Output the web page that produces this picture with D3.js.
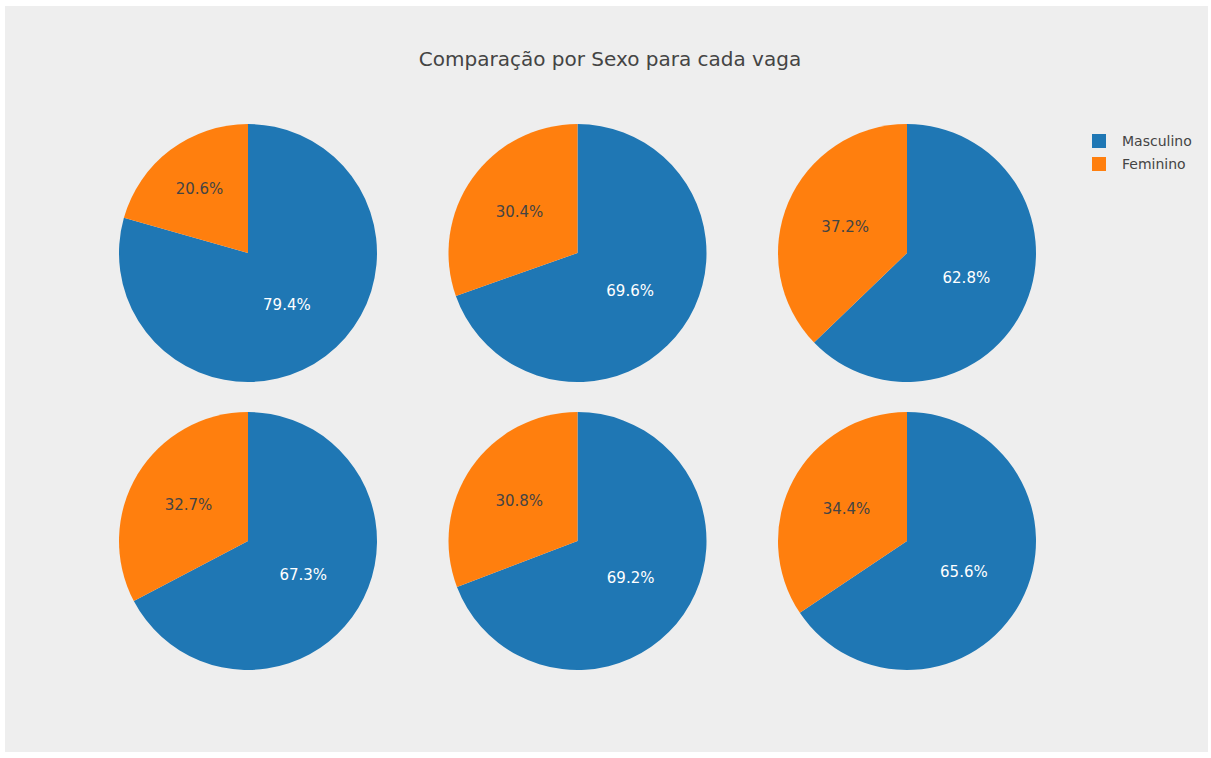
<!DOCTYPE html>
<html>
<head>
<meta charset="utf-8">
<script src="https://cdn.jsdelivr.net/npm/d3@7"></script>
<style>
body { margin: 0; background: #fff; }
text { font-family: "DejaVu Sans", Verdana, sans-serif; }
</style>
</head>
<body>
<svg id="chart"></svg>
<script>
const width = 1211, height = 758;

const categories = ['Masculino', 'Feminino'];
const colors = ['#1f77b4', '#ff7f0e'];
// percentages per vaga, [Masculino, Feminino]
const masculino = [79.4, 69.6, 62.8, 67.3, 69.2, 65.6];
const feminino = [20.6, 30.4, 37.2, 32.7, 30.8, 34.4];

const svg = d3.select('#chart')
    .attr('width', width)
    .attr('height', height);

svg.append('rect')
    .attr('x', 5).attr('y', 6)
    .attr('width', 1203).attr('height', 746)
    .attr('fill', '#eeeeee');

svg.append('text')
    .attr('x', 610).attr('y', 66)
    .attr('text-anchor', 'middle')
    .attr('font-size', 20)
    .attr('fill', '#444')
    .text('Comparação por Sexo para cada vaga');

const cols = d3.scalePoint().domain([0, 1, 2]).range([248, 907]);
const rows = d3.scalePoint().domain([0, 1]).range([253, 541]);
const R = 129;

const pie = d3.pie().sort(null).value(d => d.v);
const arc = d3.arc().innerRadius(0).outerRadius(R);

masculino.forEach((m, i) => {
    const data = [{ k: 0, v: m }, { k: 1, v: feminino[i] }];
    const total = m + feminino[i];
    const g = svg.append('g')
        .attr('transform', `translate(${cols(i % 3)},${rows(Math.floor(i / 3))})`);
    const arcs = pie(data);
    g.selectAll('path').data(arcs).join('path')
        .attr('d', arc)
        .attr('fill', d => colors[d.data.k]);

    // inside label placement like plotly (inscribed circle)
    g.selectAll('text').data(arcs).join('text')
        .attr('transform', d => {
            const frac = d.data.v / total;
            const half = Math.PI * Math.min(frac, 0.5);
            const rIns = Math.min(1 / (1 + 1 / Math.sin(half)), 0.5);
            const rc = (1 - rIns) * R;
            const mid = (d.startAngle + d.endAngle) / 2;
            return `translate(${Math.sin(mid) * rc},${-Math.cos(mid) * rc})`;
        })
        .attr('text-anchor', 'middle')
        .attr('dy', '0.35em')
        .attr('font-size', 15)
        .attr('fill', d => d.data.k === 0 ? '#fff' : '#444')
        .text(d => d.data.v.toFixed(1) + '%');
});

const legend = svg.append('g').attr('transform', 'translate(1092,134)');
const items = legend.selectAll('g').data(categories).join('g')
    .attr('transform', (d, i) => `translate(0,${i * 23})`);
items.append('rect')
    .attr('width', 14).attr('height', 14)
    .attr('fill', (d, i) => colors[i]);
items.append('text')
    .attr('x', 30).attr('y', 7)
    .attr('dy', '0.35em')
    .attr('font-size', 14)
    .attr('fill', '#444')
    .text(d => d);
</script>
</body>
</html>
